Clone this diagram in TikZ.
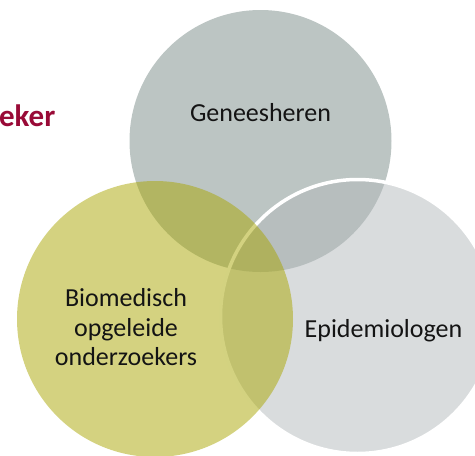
\documentclass[tikz,border=0pt]{standalone}
\usepackage{fontspec}
\setmainfont{Carlito}

\definecolor{topgray}{RGB}{188,197,195}
\definecolor{sidegray}{RGB}{179,185,187}
\definecolor{olive}{RGB}{169,166,2}
\definecolor{titlered}{RGB}{153,10,55}
\definecolor{textgray}{RGB}{20,20,20}

\tikzset{
  group/.style={inner sep=0pt, text=textgray, align=center,
    font=\fontsize{26}{29.5}\selectfont},
}

\begin{document}
\begin{tikzpicture}[x=1pt,y=-1pt]
  \useasboundingbox (0,0) rectangle (475,456);
  \clip (0,0) rectangle (475,456);

  % centres of the three groups
  \coordinate (gen) at (260.5,141);
  \coordinate (epi) at (357.5,316.5);
  \coordinate (bio) at (155,319);

  \fill [topgray] (gen) circle (131pt);
  \draw [white, line width=3.5pt, fill=sidegray, fill opacity=0.5]
    (epi) circle (137pt);
  \fill [olive, fill opacity=0.5] (bio) circle (138pt);

  \node (gentext) [group, anchor=base] at (260.5,121.7) {Geneesheren};
  \node (epitext) [group, anchor=base] at (383.5,337.3) {Epidemiologen};
  % base of a multi-line node is the last line
  \node (biotext) [group, anchor=base] at (126,365.7)
    {Biomedisch\\opgeleide\\onderzoekers};

  \node (title) [anchor=base east, inner sep=0pt, text=titlered,
    font=\fontsize{31}{37}\selectfont\bfseries] at (55.5,126.7) {eker};
\end{tikzpicture}
\end{document}
